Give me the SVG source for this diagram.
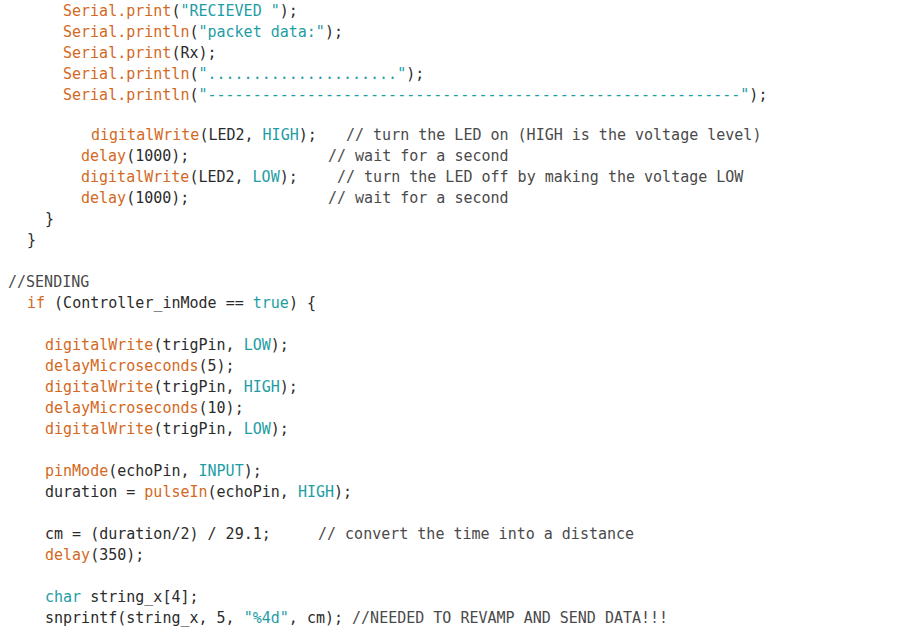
<svg xmlns="http://www.w3.org/2000/svg" width="899" height="629" viewBox="0 0 899 629">
<style>
text{font-family:"DejaVu Sans Mono","Liberation Mono",monospace;font-size:15px;fill:#2b2b2b;white-space:pre}
.o{fill:#D3691E}.t{fill:#1E9DA5}.c{fill:#4a4a4a}
</style>
<rect width="899" height="629" fill="#fff"/>
<g id="code" xml:space="preserve">
<text x="63" y="16"><tspan class="o">Serial.print</tspan>(<tspan class="t">"RECIEVED "</tspan>);</text>
<text x="63" y="37"><tspan class="o">Serial.println</tspan>(<tspan class="t">"packet data:"</tspan>);</text>
<text x="63" y="58"><tspan class="o">Serial.print</tspan>(Rx);</text>
<text x="63" y="79"><tspan class="o">Serial.println</tspan>(<tspan class="t">"....................."</tspan>);</text>
<text x="63" y="100"><tspan class="o">Serial.println</tspan>(<tspan class="t">"-----------------------------------------------------------"</tspan>);</text>
<text x="91" y="140"><tspan class="o">digitalWrite</tspan>(LED2, <tspan class="t">HIGH</tspan>);</text>
<text x="346" y="140" class="c">// turn the LED on (HIGH is the voltage level)</text>
<text x="81" y="161"><tspan class="o">delay</tspan>(1000);</text>
<text x="328" y="161" class="c">// wait for a second</text>
<text x="81" y="182"><tspan class="o">digitalWrite</tspan>(LED2, <tspan class="t">LOW</tspan>);</text>
<text x="337" y="182" class="c">// turn the LED off by making the voltage LOW</text>
<text x="81" y="203"><tspan class="o">delay</tspan>(1000);</text>
<text x="328" y="203" class="c">// wait for a second</text>
<text x="45" y="224">}</text>
<text x="27" y="245">}</text>
<text x="8" y="287" class="c">//SENDING</text>
<text x="27" y="308"><tspan class="o">if</tspan> (Controller_inMode == <tspan class="t">true</tspan>) {</text>
<text x="45" y="350"><tspan class="o">digitalWrite</tspan>(trigPin, <tspan class="t">LOW</tspan>);</text>
<text x="45" y="371"><tspan class="o">delayMicroseconds</tspan>(5);</text>
<text x="45" y="392"><tspan class="o">digitalWrite</tspan>(trigPin, <tspan class="t">HIGH</tspan>);</text>
<text x="45" y="413"><tspan class="o">delayMicroseconds</tspan>(10);</text>
<text x="45" y="434"><tspan class="o">digitalWrite</tspan>(trigPin, <tspan class="t">LOW</tspan>);</text>
<text x="45" y="476"><tspan class="o">pinMode</tspan>(echoPin, <tspan class="t">INPUT</tspan>);</text>
<text x="45" y="497">duration = <tspan class="o">pulseIn</tspan>(echoPin, <tspan class="t">HIGH</tspan>);</text>
<text x="45" y="539">cm = (duration/2) / 29.1;</text>
<text x="318" y="539" class="c">// convert the time into a distance</text>
<text x="45" y="560"><tspan class="o">delay</tspan>(350);</text>
<text x="45" y="602"><tspan class="t">char</tspan> string_x[4];</text>
<text x="45" y="623">snprintf(string_x, 5, <tspan class="t">"%4d"</tspan>, cm); <tspan class="c">//NEEDED TO REVAMP AND SEND DATA!!!</tspan></text>
</g>
</svg>
